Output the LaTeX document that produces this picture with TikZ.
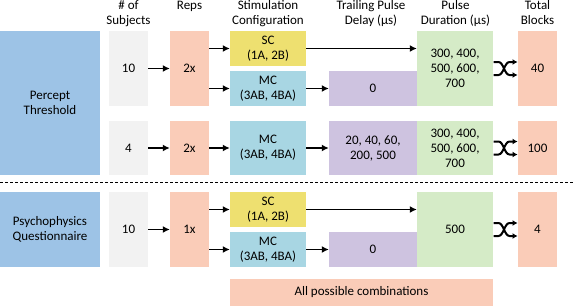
\documentclass[tikz,border=0pt]{standalone}
\usepackage{fontspec}
\setmainfont{Carlito}
\usetikzlibrary{arrows.meta,calc}
\definecolor{taskblue}{RGB}{157,195,230}
\definecolor{subjgray}{RGB}{242,242,242}
\definecolor{peach}{RGB}{250,204,184}
\definecolor{scyellow}{RGB}{238,224,112}
\definecolor{mccyan}{RGB}{168,214,227}
\definecolor{delaypurple}{RGB}{206,195,224}
\definecolor{durgreen}{RGB}{213,235,199}
\tikzset{
	blk/.style={inner sep=0pt, align=center, font=\fontsize{13}{15}\selectfont},
	hdr/.style={blk, anchor=north},
	arr/.style={-{Latex[length=7pt,width=7pt]}, line width=1.7pt},
	shuffle/.pic={
		\draw[line width=2pt, -{Latex[length=5pt,width=6pt]}] (-12,-6.5) -- (-7,-6.5) .. controls (-2,-6.5) and (-1,6.5) .. (4,6.5) -- (12,6.5);
		\draw[line width=2pt, -{Latex[length=5pt,width=6pt]}] (-12,6.5) -- (-7,6.5) .. controls (-2,6.5) and (-1,-6.5) .. (4,-6.5) -- (12,-6.5);
	}
}
\begin{document}
\begin{tikzpicture}[x=1pt,y=-1pt]
			\useasboundingbox (0,0) rectangle (575,306);
			\node[hdr] (hsubj) at (128.5,0.5) {\# of\\Subjects};
			\node[hdr] (hreps) at (189.5,0.5) {Reps};
			\node[hdr] (hstim) at (268,0.5) {Stimulation\\Configuration};
			\node[hdr] (hdelay) at (371,0.5) {Trailing Pulse\\Delay (µs)};
			\node[hdr] (hdur) at (455.5,0.5) {Pulse\\Duration (µs)};
			\node[hdr] (htotal) at (537.5,0.5) {Total\\Blocks};
			\node[blk, fill=taskblue, minimum width=100pt, minimum height=144pt] (pt) at (50,103) {Percept\\Threshold};
			\node[blk, fill=taskblue, minimum width=100pt, minimum height=75pt] (pq) at (50,229.5) {Psychophysics\\Questionnaire};
			\node[blk, fill=subjgray, minimum width=39pt, minimum height=75pt] (s1) at (128.5,68.5) {10};
			\node[blk, fill=subjgray, minimum width=39pt, minimum height=54pt] (s2) at (128.5,148) {4};
			\node[blk, fill=subjgray, minimum width=39pt, minimum height=75pt] (s3) at (128.5,229.5) {10};
			\node[blk, fill=peach, minimum width=39pt, minimum height=75pt] (r1) at (189.5,68.5) {2x};
			\node[blk, fill=peach, minimum width=39pt, minimum height=54pt] (r2) at (189.5,148) {2x};
			\node[blk, fill=peach, minimum width=39pt, minimum height=75pt] (r3) at (189.5,229.5) {1x};
			\node[blk, fill=scyellow, minimum width=76pt, minimum height=35pt] (sc1) at (268,48.5) {SC\\(1A, 2B)};
			\node[blk, fill=mccyan, minimum width=76pt, minimum height=35pt] (mc1) at (268,88.5) {MC\\(3AB, 4BA)};
			\node[blk, fill=mccyan, minimum width=76pt, minimum height=54pt] (mc2) at (268,148) {MC\\(3AB, 4BA)};
			\node[blk, fill=scyellow, minimum width=76pt, minimum height=35pt] (sc3) at (268,209.5) {SC\\(1A, 2B)};
			\node[blk, fill=mccyan, minimum width=76pt, minimum height=35pt] (mc3) at (268,249.5) {MC\\(3AB, 4BA)};
			\node[blk, fill=delaypurple, minimum width=88pt, minimum height=35pt] (d1) at (373,88.5) {0};
			\node[blk, fill=delaypurple, minimum width=88pt, minimum height=54pt] (d2) at (373,148) {20, 40, 60,\\200, 500};
			\node[blk, fill=delaypurple, minimum width=88pt, minimum height=35pt] (d3) at (373,249.5) {0};
			\node[blk, fill=durgreen, minimum width=76pt, minimum height=75pt] (p1) at (455,68.5) {300, 400,\\500, 600,\\700};
			\node[blk, fill=durgreen, minimum width=76pt, minimum height=54pt] (p2) at (455,148) {300, 400,\\500, 600,\\700};
			\node[blk, fill=durgreen, minimum width=76pt, minimum height=75pt] (p3) at (455,229.5) {500};
			\node[blk, fill=peach, minimum width=39pt, minimum height=75pt] (t1) at (537.5,68.5) {40};
			\node[blk, fill=peach, minimum width=39pt, minimum height=54pt] (t2) at (537.5,148) {100};
			\node[blk, fill=peach, minimum width=39pt, minimum height=75pt] (t3) at (537.5,229.5) {4};
			\node[blk, fill=peach, minimum width=263pt, minimum height=27pt] (allc) at (361.5,292.5) {All possible combinations};
			\draw[arr] (s1) -- (r1);
			\draw[arr] (r1.east |- sc1) -- (sc1);
			\draw[arr] (r1.east |- mc1) -- (mc1);
			\draw[arr] (sc1) -- (sc1 -| p1.west);
			\draw[arr] (mc1) -- (d1);
			\draw[arr] (s2) -- (r2);
			\draw[arr] (r2) -- (mc2);
			\draw[arr] (mc2) -- (d2);
			\draw[arr] (s3) -- (r3);
			\draw[arr] (r3.east |- sc3) -- (sc3);
			\draw[arr] (r3.east |- mc3) -- (mc3);
			\draw[arr] (sc3) -- (sc3 -| p3.west);
			\draw[arr] (mc3) -- (d3);
			\pic at ($(p1.east)!0.5!(t1.west)$) {shuffle};
			\pic at ($(p2.east)!0.5!(t2.west)$) {shuffle};
			\pic at ($(p3.east)!0.5!(t3.west)$) {shuffle};
			\draw[dash pattern=on 3pt off 2pt, line width=0.8pt] (0,182) -- (575,182);
		\end{tikzpicture}
\end{document}
